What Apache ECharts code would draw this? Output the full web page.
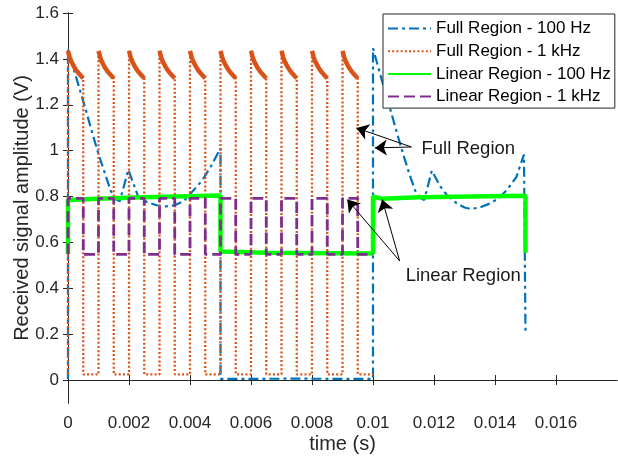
<!DOCTYPE html>
<html>
<head>
<meta charset="utf-8">
<script src="https://cdn.jsdelivr.net/npm/echarts@6/dist/echarts.min.js"></script>
<style>
  html, body { margin: 0; padding: 0; background: #fff; }
  #chart { width: 618px; height: 458px; }
</style>
</head>
<body>
<div id="chart"></div>
<script>
const FONT = '"Liberation Sans", Arial, Helvetica, sans-serif'

// axis ticks
const xTicks = [0, 0.002, 0.004, 0.006, 0.008, 0.01, 0.012, 0.014, 0.016]
const yTicks = [0, 0.2, 0.4, 0.6, 0.8, 1, 1.2, 1.4, 1.6]

const seriesNames = ['Full Region - 100 Hz', 'Full Region - 1 kHz', 'Linear Region - 100 Hz', 'Linear Region - 1 kHz']

// Full Region - 100 Hz  [t (s), V]
const full100 = [
  [0, 0.005], [0, 1.44], [0.0002, 1.35], [0.0004, 1.26], [0.0006, 1.17], [0.0008, 1.075],
  [0.001, 0.985], [0.0012, 0.905], [0.0014, 0.825], [0.0016, 0.785], [0.0017, 0.78],
  [0.00198, 0.917], [0.0023, 0.8], [0.0026, 0.775], [0.0029, 0.762], [0.0032, 0.757],
  [0.0035, 0.762], [0.0038, 0.78], [0.0041, 0.825], [0.0044, 0.87], [0.0047, 0.935],
  [0.005, 1.01], [0.005, 0.005], [0.0075, 0.006], [0.01, 0.005],
  [0.01, 1.446], [0.0102, 1.35], [0.0104, 1.255], [0.0106, 1.165], [0.0108, 1.07],
  [0.011, 0.98], [0.0112, 0.895], [0.0114, 0.82], [0.0116, 0.79], [0.01168, 0.785],
  [0.01193, 0.913], [0.0122, 0.845], [0.0124, 0.81], [0.0127, 0.775], [0.013, 0.752],
  [0.0132, 0.746], [0.0135, 0.752], [0.0138, 0.768], [0.0141, 0.79], [0.0144, 0.83],
  [0.0147, 0.885], [0.01495, 0.983], [0.015, 0.985], [0.015, 0.2]
]

// Linear Region - 100 Hz
const linear100 = [
  [0, 0.55], [0, 0.785], [0.001, 0.79], [0.0025, 0.797], [0.005, 0.805],
  [0.005, 0.56], [0.0065, 0.555], [0.01, 0.552],
  [0.01, 0.8], [0.0103, 0.79], [0.0115, 0.797], [0.015, 0.803], [0.015, 0.555]
]

// 1 kHz square waves: rising edges and the shape of one "high" half period
const edges1k = [0, 0.001, 0.002, 0.003, 0.004, 0.005, 0.006, 0.007, 0.008, 0.009]
const halfPeriod = 0.0005
const end1k = 0.01
const fullHighOffset = [0, 0.00005, 0.0001, 0.0002, 0.0003, 0.0004, 0.0005]
const fullHighValue = [1.435, 1.41, 1.39, 1.365, 1.345, 1.33, 1.315]
const fullLow = 0.025
const linHigh = 0.792
const linLow = 0.548

// build 1 kHz traces
const full1k = []
const full1kBand = []
const linear1k = []
edges1k.forEach(t0 => {
  full1k.push([t0, fullLow])
  fullHighOffset.forEach((dt, i) => {
    full1k.push([t0 + dt, fullHighValue[i]])
    full1kBand.push([t0 + dt, fullHighValue[i]])
  })
  full1kBand.push([t0 + halfPeriod, null])
  full1k.push([t0 + halfPeriod, fullLow])
  linear1k.push([t0, linLow], [t0, linHigh], [t0 + halfPeriod, linHigh], [t0 + halfPeriod, linLow])
})
full1k.push([end1k, fullLow])
linear1k.push([end1k, linLow])

// annotations [t, V]
const fullText = [0.01159, 1.009]
const fullTail = [0.01126, 1.016]
const fullTips = [[0.009456, 1.099], [0.01006, 1.012]]
const linText = [0.01107, 0.453]
const linTail = [0.010875, 0.519]
const linTips = [[0.009155, 0.787], [0.0103, 0.787]]

const chart = echarts.init(document.getElementById('chart'))

const axisColor = '#262626'
const tickLabel = { fontSize: 17, color: axisColor, fontFamily: FONT }

const arrows = []
fullTips.forEach(p => arrows.push([{ coord: fullTail }, { coord: p }]))
linTips.forEach(p => arrows.push([{ coord: linTail }, { coord: p }]))

chart.setOption({
  animation: false,
  textStyle: { fontFamily: FONT },
  grid: { left: 68, right: 1, top: 13, bottom: 55, outerBoundsMode: 'none' },
  legend: {
    data: seriesNames,
    orient: 'vertical',
    left: 383,
    top: 14,
    itemWidth: 43,
    itemHeight: 14,
    itemGap: 5.7,
    padding: [6, 4, 3, 4],
    borderColor: axisColor,
    borderWidth: 1,
    backgroundColor: '#fff',
    lineStyle: { width: 2 },
    itemStyle: { opacity: 0 },
    textStyle: { fontSize: 17, color: '#000', lineHeight: 17, fontFamily: FONT }
  },
  xAxis: [
    {
      type: 'value', min: 0, max: 0.018,
      name: 'time (s)', nameLocation: 'middle', nameGap: 31, nameMoveOverlap: false,
      nameTextStyle: { fontSize: 20, color: axisColor, fontFamily: FONT },
      axisLine: { lineStyle: { color: axisColor } },
      axisTick: { inside: true, length: 5, customValues: xTicks, lineStyle: { color: axisColor } },
      axisLabel: { customValues: xTicks, margin: 12, ...tickLabel, formatter: v => String(+v.toFixed(4)) },
      splitLine: { show: false }
    },
    {
      type: 'value', min: 0, max: 0.018, position: 'top',
      axisLine: { lineStyle: { color: axisColor } },
      axisTick: { inside: true, length: 5, customValues: xTicks, lineStyle: { color: axisColor } },
      axisLabel: { show: false },
      splitLine: { show: false }
    }
  ],
  yAxis: [
    {
      type: 'value', min: -0.1, max: 1.6,
      name: 'Received signal amplitude (V)', nameLocation: 'middle', nameGap: 36, nameRotate: 90,
      nameMoveOverlap: false,
      nameTextStyle: { fontSize: 20, color: axisColor, fontFamily: FONT },
      axisLine: { show: true, lineStyle: { color: axisColor } },
      axisTick: { show: true, inside: true, length: 5, customValues: yTicks, lineStyle: { color: axisColor } },
      axisLabel: { customValues: yTicks, margin: 9, ...tickLabel, formatter: v => String(+v.toFixed(2)) },
      splitLine: { show: false }
    },
    {
      type: 'value', min: -0.1, max: 1.6, position: 'right',
      axisLine: { show: true, lineStyle: { color: axisColor } },
      axisTick: { show: true, inside: true, length: 5, customValues: yTicks, lineStyle: { color: axisColor } },
      axisLabel: { show: false },
      splitLine: { show: false }
    }
  ],
  series: [
    {
      name: seriesNames[0], type: 'line', data: full100, symbol: 'none',
      lineStyle: { color: '#0072BD', width: 2.2, type: [10, 4, 3, 4] }, itemStyle: { color: '#0072BD' }
    },
    {
      name: 'band', type: 'line', data: full1kBand, symbol: 'none', connectNulls: false,
      lineStyle: { color: '#D95319', width: 4.5 }, itemStyle: { color: '#D95319' }
    },
    {
      name: seriesNames[1], type: 'line', data: full1k, symbol: 'none',
      lineStyle: { color: '#D95319', width: 2.3, type: [2, 2.2] }, itemStyle: { color: '#D95319' }
    },
    {
      name: seriesNames[2], type: 'line', data: linear100, symbol: 'none',
      lineStyle: { color: '#00FF00', width: 4.5 }, itemStyle: { color: '#00FF00' }
    },
    {
      name: seriesNames[3], type: 'line', data: linear1k, symbol: 'none',
      lineStyle: { color: '#7E2F8E', width: 2.8, type: [11, 5] }, itemStyle: { color: '#7E2F8E' },
      markLine: {
        silent: true,
        symbol: ['none', 'arrow'],
        symbolSize: 12,
        label: { show: false },
        lineStyle: { color: '#000', width: 1, type: 'solid' },
        emphasis: { disabled: true },
        data: arrows
      }
    }
  ]
})

// annotation text placed from data coordinates
const place = (pt, text) => {
  const p = chart.convertToPixel({ gridIndex: 0 }, pt)
  return {
    type: 'text', x: p[0], y: p[1], z: 100,
    style: { text, fontSize: 18.5, fill: '#1a1a1a', fontFamily: FONT, verticalAlign: 'middle', align: 'left' }
  }
}
chart.setOption({ graphic: [place(fullText, 'Full Region'), place(linText, 'Linear Region')] })
</script>
</body>
</html>
